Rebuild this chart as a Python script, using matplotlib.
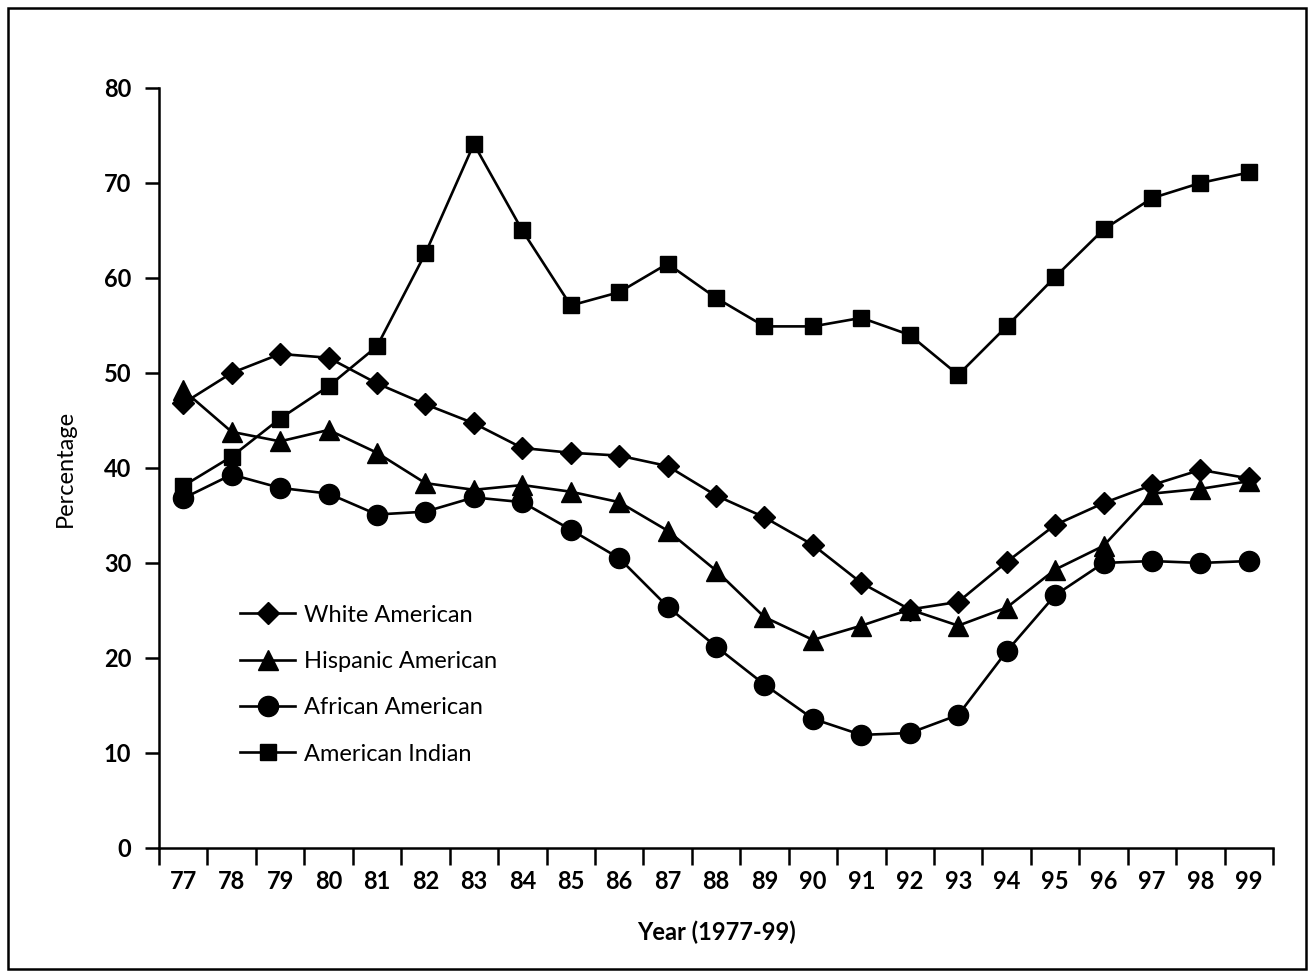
import matplotlib
matplotlib.use("Agg")
import matplotlib.pyplot as plt
from matplotlib.patches import Rectangle
import numpy as np

# Data
years = ["77", "78", "79", "80", "81", "82", "83", "84", "85", "86", "87", "88",
         "89", "90", "91", "92", "93", "94", "95", "96", "97", "98", "99"]

white = [46.8, 50.0, 52.0, 51.6, 48.9, 46.7, 44.7, 42.1, 41.6, 41.3, 40.2, 37.1,
         34.8, 31.9, 27.9, 25.1, 25.9, 30.1, 34.0, 36.3, 38.2, 39.8, 38.9]
hispanic = [48.2, 43.8, 42.8, 44.0, 41.6, 38.4, 37.7, 38.2, 37.5, 36.4, 33.4, 29.2,
            24.3, 21.9, 23.4, 25.1, 23.4, 25.3, 29.3, 31.8, 37.3, 37.8, 38.6]
african = [36.8, 39.3, 37.9, 37.3, 35.1, 35.4, 36.9, 36.4, 33.5, 30.5, 25.4, 21.2,
           17.2, 13.6, 11.9, 12.1, 14.0, 20.7, 26.6, 30.0, 30.2, 30.0, 30.2]
indian = [38.1, 41.2, 45.2, 48.6, 52.8, 62.6, 74.1, 65.0, 57.1, 58.5, 61.5, 57.9,
          54.9, 54.9, 55.8, 54.0, 49.8, 54.9, 60.1, 65.1, 68.4, 70.0, 71.1]

series = [
    ("White American", white, "D", 11),
    ("Hispanic American", hispanic, "^", 15),
    ("African American", african, "o", 14.5),
    ("American Indian", indian, "s", 11.5),
]

plt.rcParams['font.family'] = ['Lato', 'DejaVu Sans']

fig = plt.figure(figsize=(13.1, 9.75), dpi=100)
ax = fig.add_axes([0.1214, 0.1303, 0.8504, 0.7795])

x = np.arange(len(years))
for name, vals, mk, ms in series:
    ax.plot(x, vals, color="black", lw=1.9, marker=mk, markersize=ms,
            markerfacecolor="black", markeredgecolor="black", label=name)

ax.set_xlim(-0.5, len(years) - 0.5)
ax.set_ylim(0, 80)
ax.set_yticks(range(0, 81, 10))
ax.tick_params(axis="y", labelsize=17, width=1.8, length=10, pad=10)
for lbl in ax.get_yticklabels():
    lbl.set_fontweight("bold")

# year labels centred in each slot, tick marks on the slot boundaries
ax.set_xticks(x)
ax.set_xticklabels(years, fontsize=17, fontweight="bold")
ax.tick_params(axis="x", which="major", length=0, pad=16)
ax.set_xticks(np.arange(-0.5, len(years)), minor=True)
ax.tick_params(axis="x", which="minor", length=12, width=1.8)

for side in ("top", "right"):
    ax.spines[side].set_visible(False)
for side in ("left", "bottom"):
    ax.spines[side].set_linewidth(1.8)

ax.set_ylabel("Percentage", fontsize=17, labelpad=20)
ax.set_xlabel("Year (1977-99)", fontsize=17, fontweight="bold", labelpad=20)

leg = ax.legend(loc="upper left", bbox_to_anchor=(0.054, 0.348), frameon=False,
                fontsize=17, handlelength=2.3, labelspacing=1.07, handletextpad=0.4)

fig.patches.append(Rectangle((8 / 1310, 6 / 975), 1298 / 1310, 961 / 975,
                             transform=fig.transFigure, fill=False,
                             edgecolor="black", lw=1.8))

fig.savefig("out.png", dpi=100)
